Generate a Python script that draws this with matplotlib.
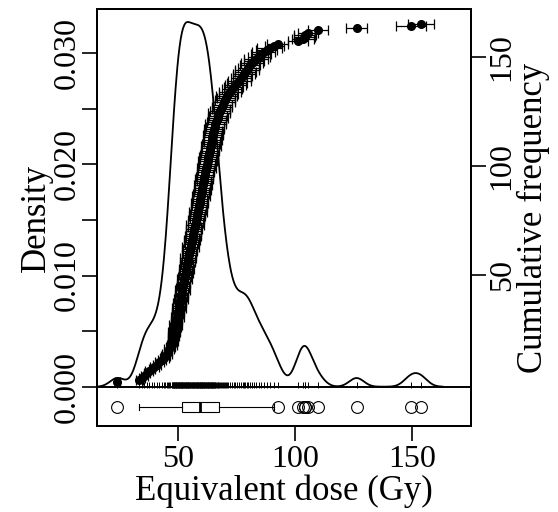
import matplotlib
matplotlib.use("Agg")
import matplotlib.pyplot as plt
import numpy as np
from matplotlib.ticker import FixedLocator

# -----------------------------
# DATA (sorted equivalent doses, Gy, and their 1-sigma errors)
# -----------------------------
de = [
    24.0,
    33.4, 34.5, 35.5, 36.6, 37.6, 38.7, 39.8, 40.9, 41.9, 43.0,
    44.0, 44.5, 45.0, 45.6, 46.1, 46.6,
    47.3, 47.5, 47.6, 47.8, 48.0, 48.2, 48.3, 48.5, 48.7, 48.9,
    49.0, 49.2, 49.4, 49.6, 49.7, 49.9, 50.1, 50.3, 50.4, 50.6,
    50.8, 51.0, 51.1, 51.3, 51.5, 51.7, 51.8, 52.0,
    52.2, 52.4, 52.5, 52.7, 52.9, 53.1, 53.3, 53.4, 53.6, 53.8,
    54.0, 54.2, 54.3, 54.5, 54.7, 54.9, 55.1,
    55.3, 55.5, 55.7, 55.9, 56.1, 56.3, 56.5, 56.6, 56.8, 57.0,
    57.2, 57.4, 57.6, 57.8, 58.0,
    58.2, 58.4, 58.6, 58.7, 58.9, 59.1, 59.3, 59.4, 59.6, 59.8,
    60.0, 60.2, 60.3, 60.5, 60.7, 60.9, 61.0, 61.2, 61.4,
    61.6, 61.8, 62.0, 62.2, 62.3, 62.5, 62.7, 62.9, 63.1, 63.3,
    63.5, 63.7, 63.9, 64.1, 64.3, 64.5, 64.6, 64.8, 65.0, 65.2,
    65.4, 65.6,
    65.9, 66.2, 66.5, 66.8, 67.1, 67.4,
    67.8, 68.2, 68.6, 69.0, 69.5, 69.9, 70.3, 70.8,
    71.4, 72.1, 72.8, 73.6, 74.4, 75.2, 76.0, 76.8, 77.5, 78.1,
    78.7, 79.3, 79.9, 80.6, 81.4, 82.3, 83.3, 84.4, 85.5, 86.6,
    87.8, 89.0,
    91.1, 92.6, 101.0, 103.2, 104.0, 104.2, 105.3, 109.6, 126.2, 149.3, 153.6,
]
de_err = [
    1.0,
    1.4, 1.3, 1.5, 1.4, 1.7, 1.4, 1.8, 1.6, 1.9, 1.7, 2.0, 1.8, 2.1, 1.9,
    2.2, 2.0, 2.3, 2.0, 2.2, 2.1, 2.5, 2.2, 2.6, 2.1,
    2.4, 2.7, 2.2, 2.5, 2.3, 2.8, 2.4, 2.6, 2.3, 2.9,
    2.5, 2.7, 2.4, 3.0, 2.6,
    2.8, 2.5, 3.1, 2.7, 2.6, 2.9, 2.5, 3.2, 2.8, 2.7,
    3.0, 2.6, 3.3, 2.9, 2.7, 3.1, 2.8, 3.4,
    3.0, 2.7, 3.2, 2.9, 3.5, 2.8, 3.1, 3.3, 2.9, 3.6,
    3.0, 3.2, 3.4, 2.9,
    3.7, 3.1, 3.3, 3.0, 3.6, 3.2, 3.8, 3.1, 3.4, 3.2,
    3.7, 3.3, 3.0, 3.9, 3.4, 3.2, 3.6, 3.3, 3.8, 3.4,
    3.1, 4.0, 3.5,
    3.3, 3.7, 3.4, 4.1, 3.6, 3.3, 3.9, 3.5, 4.2, 3.7,
    3.4, 4.0, 3.6, 4.3, 3.8, 3.5, 4.1, 3.7, 4.4, 3.9,
    3.6, 4.2, 3.8, 4.5, 4.0, 3.7, 4.3, 3.9, 4.6,
    4.1, 3.8, 4.4, 4.0, 4.7, 4.2, 3.9, 4.5,
    4.1, 4.8, 4.3, 4.0, 4.6, 4.2, 4.9, 4.4, 4.1, 4.7,
    4.3, 5.0, 4.5, 4.2, 4.8, 4.4, 5.1, 4.6, 4.3, 4.9,
    4.5, 5.2,
    4.2, 4.5, 4.3, 4.6, 4.4, 4.7, 4.3, 4.2, 4.4, 6.4, 5.6,
]

x_ticks = [50, 100, 150]
dens_ticks = [0.000, 0.005, 0.010, 0.015, 0.020, 0.025, 0.030]
dens_labels = ["0.000", "", "0.010", "", "0.020", "", "0.030"]
cum_ticks = [50, 100, 150]

bw = 3.1  # kernel bandwidth (Gy)

# -----------------------------
# PLOTTING
# -----------------------------
plt.rcParams['font.family'] = ['Liberation Serif', 'DejaVu Serif']
plt.rcParams['font.size'] = 23

de_arr = np.array(de)
n = len(de_arr)

fig = plt.figure(figsize=(5.58, 5.12), dpi=100)
ax = fig.add_axes([97 / 558, 86 / 512, 374 / 558, 417 / 512])

# gaussian KDE
x_grid = np.linspace(de_arr.min() - 3 * bw, de_arr.max() + 3 * bw, 600)
dens = np.exp(-0.5 * ((x_grid[:, None] - de_arr[None, :]) / bw) ** 2).sum(axis=1)
dens = dens / (n * bw * np.sqrt(2 * np.pi))
ax.plot(x_grid, dens, color='black', lw=1.3, zorder=3)

# baseline and rug
ax.axhline(0, color='black', lw=1.4, zorder=4)
ax.vlines(de_arr, -0.0001, 0.0004, color='black', lw=0.7, zorder=4)

# boxplot below the baseline
ax.boxplot(de_arr, orientation='horizontal', positions=[-0.00183], widths=0.00096,
           manage_ticks=False, patch_artist=True,
           boxprops=dict(facecolor='white', edgecolor='black', lw=0.8),
           medianprops=dict(color='black', lw=2.0),
           whiskerprops=dict(color='black', lw=0.8),
           capprops=dict(color='black', lw=0.8),
           flierprops=dict(marker='o', markerfacecolor='none', markeredgecolor='black',
                           markersize=8.5, markeredgewidth=0.8))

ax.set_xlim(15.26, 175.1)
ax.set_ylim(-0.003534, 0.03397)
ax.xaxis.set_major_locator(FixedLocator(x_ticks))
ax.yaxis.set_major_locator(FixedLocator(dens_ticks))
ax.set_yticklabels(dens_labels)
ax.tick_params(axis='both', direction='out', length=11, width=1.2)
ax.tick_params(axis='x', pad=3)
ax.tick_params(axis='y', labelrotation=90, pad=0)
for lab in ax.get_yticklabels():
    lab.set_va('center')
ax.set_xlabel("Equivalent dose (Gy)", fontsize=25, labelpad=0)
ax.set_ylabel("Density", fontsize=25, labelpad=0)

# cumulative frequency on the right axis
ax2 = ax.twinx()
ax2.errorbar(de_arr, np.arange(1, n + 1), xerr=de_err, fmt='o', ms=5.5,
             color='black', ecolor='black', elinewidth=0.9, capsize=3.5,
             capthick=0.9, zorder=5)
ax2.set_ylim(-19.1, 171.8)
ax2.yaxis.set_major_locator(FixedLocator(cum_ticks))
ax2.tick_params(axis='y', direction='out', length=11, width=1.2, pad=1, labelrotation=90)
for lab in ax2.get_yticklabels():
    lab.set_va('center')
ax2.set_ylabel("Cumulative frequency", fontsize=25, labelpad=0)

for a in (ax, ax2):
    for s in a.spines.values():
        s.set_linewidth(1.4)

fig.savefig("out.png", dpi=100)
